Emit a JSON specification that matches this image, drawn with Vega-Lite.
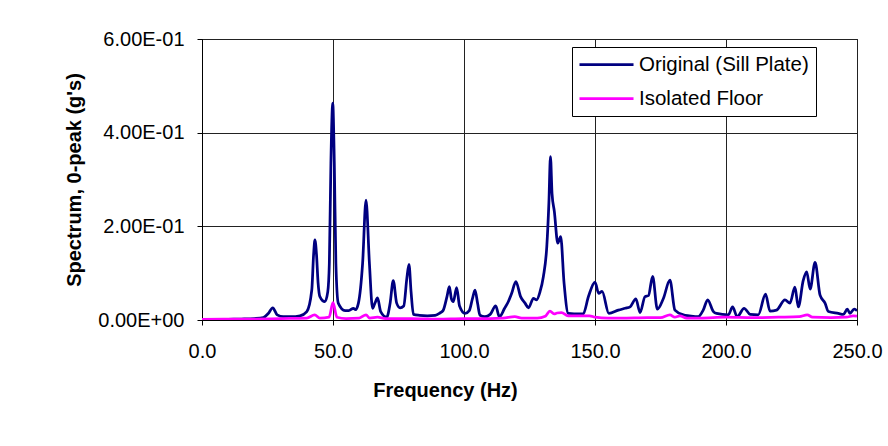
{
  "$schema": "https://vega.github.io/schema/vega-lite/v6.json",
  "width": 655,
  "height": 281,
  "autosize": {"type": "none"},
  "padding": {"left": 202, "top": 39, "right": 31, "bottom": 126},
  "background": "white",
  "config": {
    "font": "Arial",
    "view": {"stroke": "black", "strokeWidth": 1},
    "axis": {
      "domainColor": "black",
      "tickColor": "black",
      "gridColor": "#222222",
      "gridOpacity": 1,
      "gridWidth": 1,
      "labelColor": "black",
      "labelFont": "Arial",
      "labelFontSize": 20,
      "titleColor": "black",
      "titleFont": "Arial",
      "titleFontSize": 20,
      "titleFontWeight": "bold",
      "tickSize": 5
    }
  },
  "data": {
    "values": [
      {"f": 0, "v": 0.001, "s": "Original (Sill Plate)"},
      {"f": 5, "v": 0.001, "s": "Original (Sill Plate)"},
      {"f": 10, "v": 0.0015, "s": "Original (Sill Plate)"},
      {"f": 15, "v": 0.002, "s": "Original (Sill Plate)"},
      {"f": 20, "v": 0.003, "s": "Original (Sill Plate)"},
      {"f": 23.4, "v": 0.005, "s": "Original (Sill Plate)"},
      {"f": 25.3, "v": 0.014, "s": "Original (Sill Plate)"},
      {"f": 27.0, "v": 0.026, "s": "Original (Sill Plate)"},
      {"f": 28.7, "v": 0.011, "s": "Original (Sill Plate)"},
      {"f": 31, "v": 0.007, "s": "Original (Sill Plate)"},
      {"f": 34, "v": 0.007, "s": "Original (Sill Plate)"},
      {"f": 37.4, "v": 0.009, "s": "Original (Sill Plate)"},
      {"f": 40, "v": 0.018, "s": "Original (Sill Plate)"},
      {"f": 41.9, "v": 0.064, "s": "Original (Sill Plate)"},
      {"f": 42.6, "v": 0.14, "s": "Original (Sill Plate)"},
      {"f": 43.1, "v": 0.171, "s": "Original (Sill Plate)"},
      {"f": 43.7, "v": 0.14, "s": "Original (Sill Plate)"},
      {"f": 44.3, "v": 0.08, "s": "Original (Sill Plate)"},
      {"f": 45, "v": 0.05, "s": "Original (Sill Plate)"},
      {"f": 46.9, "v": 0.039, "s": "Original (Sill Plate)"},
      {"f": 48, "v": 0.06, "s": "Original (Sill Plate)"},
      {"f": 48.6, "v": 0.121, "s": "Original (Sill Plate)"},
      {"f": 49.2, "v": 0.335, "s": "Original (Sill Plate)"},
      {"f": 49.9, "v": 0.463, "s": "Original (Sill Plate)"},
      {"f": 50.5, "v": 0.335, "s": "Original (Sill Plate)"},
      {"f": 51.1, "v": 0.121, "s": "Original (Sill Plate)"},
      {"f": 52.0, "v": 0.036, "s": "Original (Sill Plate)"},
      {"f": 54.6, "v": 0.02, "s": "Original (Sill Plate)"},
      {"f": 56, "v": 0.02, "s": "Original (Sill Plate)"},
      {"f": 57.8, "v": 0.025, "s": "Original (Sill Plate)"},
      {"f": 58.6, "v": 0.022, "s": "Original (Sill Plate)"},
      {"f": 59.7, "v": 0.036, "s": "Original (Sill Plate)"},
      {"f": 61.3, "v": 0.121, "s": "Original (Sill Plate)"},
      {"f": 62.6, "v": 0.256, "s": "Original (Sill Plate)"},
      {"f": 63.9, "v": 0.121, "s": "Original (Sill Plate)"},
      {"f": 65.1, "v": 0.025, "s": "Original (Sill Plate)"},
      {"f": 66, "v": 0.036, "s": "Original (Sill Plate)"},
      {"f": 67.0, "v": 0.047, "s": "Original (Sill Plate)"},
      {"f": 68.2, "v": 0.018, "s": "Original (Sill Plate)"},
      {"f": 70.5, "v": 0.006, "s": "Original (Sill Plate)"},
      {"f": 71.8, "v": 0.036, "s": "Original (Sill Plate)"},
      {"f": 73.0, "v": 0.084, "s": "Original (Sill Plate)"},
      {"f": 74.3, "v": 0.036, "s": "Original (Sill Plate)"},
      {"f": 75.6, "v": 0.026, "s": "Original (Sill Plate)"},
      {"f": 77, "v": 0.03, "s": "Original (Sill Plate)"},
      {"f": 78.2, "v": 0.09, "s": "Original (Sill Plate)"},
      {"f": 79.0, "v": 0.119, "s": "Original (Sill Plate)"},
      {"f": 79.8, "v": 0.06, "s": "Original (Sill Plate)"},
      {"f": 80.7, "v": 0.012, "s": "Original (Sill Plate)"},
      {"f": 83, "v": 0.01, "s": "Original (Sill Plate)"},
      {"f": 86, "v": 0.009, "s": "Original (Sill Plate)"},
      {"f": 89, "v": 0.01, "s": "Original (Sill Plate)"},
      {"f": 90.8, "v": 0.015, "s": "Original (Sill Plate)"},
      {"f": 92, "v": 0.02, "s": "Original (Sill Plate)"},
      {"f": 93.5, "v": 0.05, "s": "Original (Sill Plate)"},
      {"f": 94.4, "v": 0.071, "s": "Original (Sill Plate)"},
      {"f": 95.2, "v": 0.045, "s": "Original (Sill Plate)"},
      {"f": 95.9, "v": 0.039, "s": "Original (Sill Plate)"},
      {"f": 97.2, "v": 0.069, "s": "Original (Sill Plate)"},
      {"f": 98.3, "v": 0.03, "s": "Original (Sill Plate)"},
      {"f": 100.4, "v": 0.014, "s": "Original (Sill Plate)"},
      {"f": 102, "v": 0.02, "s": "Original (Sill Plate)"},
      {"f": 103.2, "v": 0.045, "s": "Original (Sill Plate)"},
      {"f": 104.2, "v": 0.064, "s": "Original (Sill Plate)"},
      {"f": 105.2, "v": 0.035, "s": "Original (Sill Plate)"},
      {"f": 106.1, "v": 0.01, "s": "Original (Sill Plate)"},
      {"f": 108, "v": 0.007, "s": "Original (Sill Plate)"},
      {"f": 110, "v": 0.012, "s": "Original (Sill Plate)"},
      {"f": 112.1, "v": 0.03, "s": "Original (Sill Plate)"},
      {"f": 113.5, "v": 0.007, "s": "Original (Sill Plate)"},
      {"f": 115.5, "v": 0.025, "s": "Original (Sill Plate)"},
      {"f": 116.9, "v": 0.039, "s": "Original (Sill Plate)"},
      {"f": 118.2, "v": 0.057, "s": "Original (Sill Plate)"},
      {"f": 119.8, "v": 0.082, "s": "Original (Sill Plate)"},
      {"f": 121.6, "v": 0.05, "s": "Original (Sill Plate)"},
      {"f": 123.3, "v": 0.036, "s": "Original (Sill Plate)"},
      {"f": 124.6, "v": 0.026, "s": "Original (Sill Plate)"},
      {"f": 126.5, "v": 0.046, "s": "Original (Sill Plate)"},
      {"f": 127.7, "v": 0.043, "s": "Original (Sill Plate)"},
      {"f": 129, "v": 0.06, "s": "Original (Sill Plate)"},
      {"f": 130.3, "v": 0.093, "s": "Original (Sill Plate)"},
      {"f": 131.6, "v": 0.157, "s": "Original (Sill Plate)"},
      {"f": 132.4, "v": 0.25, "s": "Original (Sill Plate)"},
      {"f": 133.0, "v": 0.349, "s": "Original (Sill Plate)"},
      {"f": 133.6, "v": 0.27, "s": "Original (Sill Plate)"},
      {"f": 134.5, "v": 0.231, "s": "Original (Sill Plate)"},
      {"f": 135.8, "v": 0.164, "s": "Original (Sill Plate)"},
      {"f": 136.9, "v": 0.178, "s": "Original (Sill Plate)"},
      {"f": 138.2, "v": 0.078, "s": "Original (Sill Plate)"},
      {"f": 139.8, "v": 0.014, "s": "Original (Sill Plate)"},
      {"f": 142, "v": 0.013, "s": "Original (Sill Plate)"},
      {"f": 145.5, "v": 0.013, "s": "Original (Sill Plate)"},
      {"f": 147.5, "v": 0.05, "s": "Original (Sill Plate)"},
      {"f": 150.0, "v": 0.081, "s": "Original (Sill Plate)"},
      {"f": 151.4, "v": 0.057, "s": "Original (Sill Plate)"},
      {"f": 152.7, "v": 0.061, "s": "Original (Sill Plate)"},
      {"f": 155.3, "v": 0.014, "s": "Original (Sill Plate)"},
      {"f": 158.9, "v": 0.021, "s": "Original (Sill Plate)"},
      {"f": 161.5, "v": 0.025, "s": "Original (Sill Plate)"},
      {"f": 163.4, "v": 0.028, "s": "Original (Sill Plate)"},
      {"f": 165.6, "v": 0.045, "s": "Original (Sill Plate)"},
      {"f": 167.2, "v": 0.016, "s": "Original (Sill Plate)"},
      {"f": 169.1, "v": 0.05, "s": "Original (Sill Plate)"},
      {"f": 170.4, "v": 0.052, "s": "Original (Sill Plate)"},
      {"f": 172.0, "v": 0.093, "s": "Original (Sill Plate)"},
      {"f": 173.8, "v": 0.023, "s": "Original (Sill Plate)"},
      {"f": 176.1, "v": 0.046, "s": "Original (Sill Plate)"},
      {"f": 178.6, "v": 0.085, "s": "Original (Sill Plate)"},
      {"f": 180.5, "v": 0.021, "s": "Original (Sill Plate)"},
      {"f": 183.7, "v": 0.011, "s": "Original (Sill Plate)"},
      {"f": 186, "v": 0.009, "s": "Original (Sill Plate)"},
      {"f": 189.4, "v": 0.007, "s": "Original (Sill Plate)"},
      {"f": 191.3, "v": 0.021, "s": "Original (Sill Plate)"},
      {"f": 193.0, "v": 0.043, "s": "Original (Sill Plate)"},
      {"f": 195.2, "v": 0.018, "s": "Original (Sill Plate)"},
      {"f": 196.4, "v": 0.014, "s": "Original (Sill Plate)"},
      {"f": 200.9, "v": 0.011, "s": "Original (Sill Plate)"},
      {"f": 202.5, "v": 0.028, "s": "Original (Sill Plate)"},
      {"f": 204.3, "v": 0.007, "s": "Original (Sill Plate)"},
      {"f": 206.9, "v": 0.025, "s": "Original (Sill Plate)"},
      {"f": 209.2, "v": 0.012, "s": "Original (Sill Plate)"},
      {"f": 212.3, "v": 0.011, "s": "Original (Sill Plate)"},
      {"f": 215.1, "v": 0.055, "s": "Original (Sill Plate)"},
      {"f": 216.8, "v": 0.019, "s": "Original (Sill Plate)"},
      {"f": 219.3, "v": 0.021, "s": "Original (Sill Plate)"},
      {"f": 222.5, "v": 0.043, "s": "Original (Sill Plate)"},
      {"f": 224.4, "v": 0.036, "s": "Original (Sill Plate)"},
      {"f": 226.3, "v": 0.07, "s": "Original (Sill Plate)"},
      {"f": 227.6, "v": 0.028, "s": "Original (Sill Plate)"},
      {"f": 229.5, "v": 0.085, "s": "Original (Sill Plate)"},
      {"f": 230.8, "v": 0.103, "s": "Original (Sill Plate)"},
      {"f": 232.1, "v": 0.066, "s": "Original (Sill Plate)"},
      {"f": 234.0, "v": 0.123, "s": "Original (Sill Plate)"},
      {"f": 235.9, "v": 0.053, "s": "Original (Sill Plate)"},
      {"f": 237.8, "v": 0.036, "s": "Original (Sill Plate)"},
      {"f": 239.1, "v": 0.018, "s": "Original (Sill Plate)"},
      {"f": 242.9, "v": 0.014, "s": "Original (Sill Plate)"},
      {"f": 244.8, "v": 0.012, "s": "Original (Sill Plate)"},
      {"f": 246.3, "v": 0.023, "s": "Original (Sill Plate)"},
      {"f": 247.3, "v": 0.014, "s": "Original (Sill Plate)"},
      {"f": 248.9, "v": 0.023, "s": "Original (Sill Plate)"},
      {"f": 250, "v": 0.02, "s": "Original (Sill Plate)"},
      {"f": 0, "v": 0.0015, "s": "Isolated Floor"},
      {"f": 20, "v": 0.002, "s": "Isolated Floor"},
      {"f": 30, "v": 0.003, "s": "Isolated Floor"},
      {"f": 40, "v": 0.004, "s": "Isolated Floor"},
      {"f": 43, "v": 0.011, "s": "Isolated Floor"},
      {"f": 45, "v": 0.004, "s": "Isolated Floor"},
      {"f": 48.5, "v": 0.006, "s": "Isolated Floor"},
      {"f": 50, "v": 0.037, "s": "Isolated Floor"},
      {"f": 51.5, "v": 0.006, "s": "Isolated Floor"},
      {"f": 55, "v": 0.003, "s": "Isolated Floor"},
      {"f": 60, "v": 0.004, "s": "Isolated Floor"},
      {"f": 62.6, "v": 0.011, "s": "Isolated Floor"},
      {"f": 64, "v": 0.004, "s": "Isolated Floor"},
      {"f": 67, "v": 0.006, "s": "Isolated Floor"},
      {"f": 70, "v": 0.003, "s": "Isolated Floor"},
      {"f": 80, "v": 0.003, "s": "Isolated Floor"},
      {"f": 90, "v": 0.002, "s": "Isolated Floor"},
      {"f": 100, "v": 0.003, "s": "Isolated Floor"},
      {"f": 110, "v": 0.003, "s": "Isolated Floor"},
      {"f": 115, "v": 0.004, "s": "Isolated Floor"},
      {"f": 119.4, "v": 0.007, "s": "Isolated Floor"},
      {"f": 122, "v": 0.004, "s": "Isolated Floor"},
      {"f": 128, "v": 0.004, "s": "Isolated Floor"},
      {"f": 131, "v": 0.008, "s": "Isolated Floor"},
      {"f": 132.8, "v": 0.019, "s": "Isolated Floor"},
      {"f": 134.4, "v": 0.013, "s": "Isolated Floor"},
      {"f": 135.5, "v": 0.015, "s": "Isolated Floor"},
      {"f": 137.2, "v": 0.016, "s": "Isolated Floor"},
      {"f": 139.7, "v": 0.009, "s": "Isolated Floor"},
      {"f": 144, "v": 0.009, "s": "Isolated Floor"},
      {"f": 147.9, "v": 0.009, "s": "Isolated Floor"},
      {"f": 150, "v": 0.006, "s": "Isolated Floor"},
      {"f": 155, "v": 0.004, "s": "Isolated Floor"},
      {"f": 160, "v": 0.004, "s": "Isolated Floor"},
      {"f": 170, "v": 0.005, "s": "Isolated Floor"},
      {"f": 175, "v": 0.005, "s": "Isolated Floor"},
      {"f": 178.6, "v": 0.011, "s": "Isolated Floor"},
      {"f": 180.5, "v": 0.006, "s": "Isolated Floor"},
      {"f": 182.4, "v": 0.009, "s": "Isolated Floor"},
      {"f": 185, "v": 0.004, "s": "Isolated Floor"},
      {"f": 190, "v": 0.004, "s": "Isolated Floor"},
      {"f": 200, "v": 0.006, "s": "Isolated Floor"},
      {"f": 210, "v": 0.005, "s": "Isolated Floor"},
      {"f": 220, "v": 0.006, "s": "Isolated Floor"},
      {"f": 228, "v": 0.007, "s": "Isolated Floor"},
      {"f": 231, "v": 0.011, "s": "Isolated Floor"},
      {"f": 233, "v": 0.006, "s": "Isolated Floor"},
      {"f": 240, "v": 0.005, "s": "Isolated Floor"},
      {"f": 246, "v": 0.006, "s": "Isolated Floor"},
      {"f": 248.5, "v": 0.009, "s": "Isolated Floor"},
      {"f": 250, "v": 0.008, "s": "Isolated Floor"}
    ]
  },
  "mark": {"type": "line", "strokeWidth": 2.75, "clip": true, "interpolate": "monotone"},
  "encoding": {
    "x": {
      "field": "f",
      "type": "quantitative",
      "title": "Frequency (Hz)",
      "scale": {"domain": [0, 250], "nice": false, "zero": false},
      "axis": {
        "values": [0, 50, 100, 150, 200, 250],
        "format": ".1f",
        "labelPadding": 16,
        "labelFlush": false,
        "titleX": 243,
        "titlePadding": 19
      }
    },
    "y": {
      "field": "v",
      "type": "quantitative",
      "title": "Spectrum, 0-peak (g's)",
      "scale": {"domain": [0, 0.6], "nice": false},
      "axis": {
        "values": [0, 0.2, 0.4, 0.6],
        "labelExpr": "replace(replace(format(datum.value, '.2e'), 'e-', 'E-0'), 'e+', 'E+0')",
        "labelPadding": 13,
        "labelFlush": false,
        "titlePadding": 13
      }
    },
    "color": {
      "field": "s",
      "type": "nominal",
      "sort": ["Original (Sill Plate)", "Isolated Floor"],
      "scale": {"domain": ["Original (Sill Plate)", "Isolated Floor"], "range": ["#000080", "#FF00FF"]},
      "legend": {
        "title": null,
        "orient": "none",
        "legendX": 370,
        "legendY": 8,
        "direction": "vertical",
        "fillColor": "white",
        "strokeColor": "black",
        "padding": 7,
        "labelFont": "Arial",
        "labelFontSize": 20.5,
        "labelColor": "black",
        "labelOffset": 22,
        "labelLimit": 400,
        "symbolType": "M-3.13,0H3.13",
        "symbolSize": 298,
        "symbolOffset": 17,
        "symbolStrokeWidth": 2.75,
        "rowPadding": 13
      }
    }
  }
}
